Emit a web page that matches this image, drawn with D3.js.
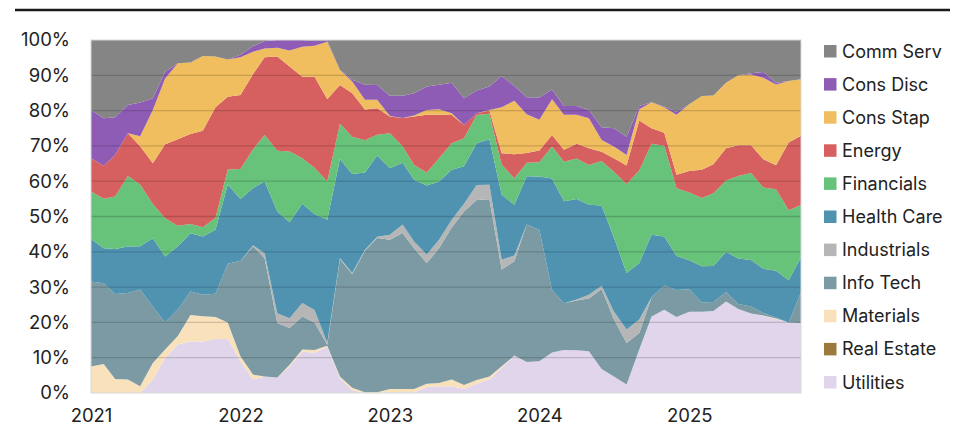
<!DOCTYPE html>
<html>
<head>
<meta charset="utf-8">
<script src="https://cdn.jsdelivr.net/npm/d3@7"></script>
<style>
  body { margin: 0; background: #fff; }
  svg text { font-family: Inter, Lato, "Noto Sans", sans-serif; fill: #222; }
</style>
</head>
<body>
<div id="chart"></div>
<script>
// Monthly sector weights (%), Jan 2021 - Oct 2025
var months = ["2021-01","2021-02","2021-03","2021-04","2021-05","2021-06","2021-07","2021-08","2021-09","2021-10","2021-11","2021-12",
  "2022-01","2022-02","2022-03","2022-04","2022-05","2022-06","2022-07","2022-08","2022-09","2022-10","2022-11","2022-12",
  "2023-01","2023-02","2023-03","2023-04","2023-05","2023-06","2023-07","2023-08","2023-09","2023-10","2023-11","2023-12",
  "2024-01","2024-02","2024-03","2024-04","2024-05","2024-06","2024-07","2024-08","2024-09","2024-10","2024-11","2024-12",
  "2025-01","2025-02","2025-03","2025-04","2025-05","2025-06","2025-07","2025-08","2025-09","2025-10"];

var sectors = ["Comm Serv", "Cons Disc", "Cons Stap", "Energy", "Financials", "Health Care",
  "Industrials", "Info Tech", "Materials", "Real Estate", "Utilities"];
var colors = ["#858585", "#8e5cb5", "#f0bd5f", "#d65f5f", "#67c27a", "#4f93b1",
  "#b6b6b6", "#7b9aa3", "#f9e1bb", "#9c7a3c", "#e1d5eb"];

var commServ = [19.8,22.2,21.9,18.4,17.7,16.5,9.0,6.6,6.4,4.5, 4.7,5.5,4.2,1.7,0.3,0,0,0,0.2,0.2,
  8.5,11.3,12.7,12.7,15.8,15.8,15.1,13.2,12.7,12.1, 16.5,14.3,13.2,10.2,13.0,16.2,16.3,14.0,18.7,18.7,
  19.8,24.7,25.0,27.4,18.7,17.6,18.9,20.3,18.2,15.8, 15.7,12.1,10.0,9.4,9.1,12.1,11.6,11.1];
var consDisc = [13.7,13.4,10.7,8.0,9.6,3.3,1.9,0,0,0, 0,0,0.7,1.6,2.1,2.2,3.0,1.9,1.4,0.3,
  0,0.5,4.2,4.2,5.7,6.3,6.3,6.6,6.9,8.7, 7.6,6.4,6.6,8.9,4.2,4.8,6.3,2.8,2.5,2.5,
  2.4,3.6,5.2,5.2,0.9,0,0.2,0.9,0,0, 0,0,0,0.4,1.6,0.5,0,0];
var consStap = [0,0,0,0,2.8,15.1,18.6,21.5,20.2,21.2, 14.3,10.6,10.7,6.3,2.5,2.5,4.5,8.5,8.8,16.3,
  4.2,3.3,2.8,2.4,0.2,0,0.3,1.4,1.6,0.5, 0,0,0.2,13.0,15.1,11.0,8.7,10.1,9.9,8.2,
  8.5,3.3,3.3,3.0,3.2,7.4,7.2,17.0,18.9,20.9, 19.5,18.6,19.8,20.0,23.1,22.9,17.5,16.0];
var energy = [9.4,9.4,11.8,12.1,10.8,11.5,21.0,24.5,25.5,27.3, 31.4,20.6,21.0,21.3,22.0,26.7,24.1,23.1,25.8,23.3,
  11.0,12.3,8.7,7.5,4.7,8.0,13.7,16.3,12.3,8.0, 3.7,0.5,0.9,3.3,6.8,2.8,3.4,3.3,3.4,4.2,
  4.7,2.6,3.8,5.2,14.2,4.4,3.7,3.8,6.1,8.0, 8.2,9.1,8.7,7.9,8.0,6.8,19.2,19.6];
var financials = [13.5,14.0,14.9,20.0,17.5,9.7,10.8,5.8,2.6,2.6, 3.3,4.2,8.5,11.0,13.2,17.2,20.0,12.9,13.1,10.8,
  10.0,10.6,9.1,5.9,9.9,4.7,4.2,3.7,6.6,7.5, 8.0,8.0,7.2,8.5,7.5,3.8,4.0,9.0,11.2,11.5,
  11.3,12.6,18.6,25.3,26.2,25.8,25.8,19.2,19.2,19.3, 20.6,20.2,23.4,24.6,23.1,23.1,19.8,14.8];
var healthCare = [12.0,9.9,12.7,13.2,12.3,19.3,18.7,17.9,16.5,16.5, 18.1,22.5,17.5,16.2,20.3,28.8,27.2,28.1,27.2,34.9,
  28.0,28.1,21.9,23.0,18.9,17.5,17.5,19.6,16.5,14.2, 10.6,11.8,12.9,18.4,14.4,13.7,15.1,31.6,28.9,28.5,
  25.5,22.7,21.0,16.0,16.0,17.7,13.9,9.6,8.2,10.2, 10.2,11.4,12.9,13.2,12.5,13.2,12.0,9.9];
var industrials = [0,0,0,0,0,0,0,0,0,0, 0,0,0,0.3,1.4,2.8,2.8,3.8,3.5,0.5,
  0.3,0.3,0.3,0.3,1.4,2.4,1.9,2.4,2.4,2.2, 2.2,4.2,4.1,2.8,1.6,0,0,0,0,0.3,
  1.0,0.9,2.2,3.8,3.8,0,0,0,0,0, 0,0,0,0,0,0,0,0];
var infoTech = [24.1,22.9,24.1,24.5,27.4,16.0,7.7,7.5,6.6,6.1, 6.6,16.6,27.1,36.3,33.5,15.4,10.4,9.4,7.8,0.3,
  33.2,32.2,40.1,43.7,42.3,44.2,39.9,34.2,38.2,43.1, 49.1,50.9,50.2,27.4,26.7,38.9,37.3,17.7,13.2,14.1,
  15.0,22.6,16.2,11.8,4.7,5.4,6.9,7.7,6.4,2.6, 2.6,2.7,1.4,2.0,0.7,0.3,0,8.7];
var materials = [7.5,8.2,4.0,3.8,1.9,4.7,2.4,2.4,7.5,7.1, 6.2,4.7,1.4,1.4,0,0,0.5,0.5,0.9,0.2,
  0.5,0.7,0.2,0.2,0.9,0.9,0.9,0.9,0.9,1.9, 1.2,1.1,0.9,0.5,0,0,0,0,0,0,
  0,0,0,0,0,0,0,0,0,0, 0,0,0,0,0.1,0.2,0,0];
var realEstate = [0,0,0,0,0,0,0,0,0,0, 0,0,0,0,0,0,0,0,0,0,
  0,0,0,0,0,0,0,0,0,0, 0,0,0,0,0,0,0,0,0,0,
  0,0,0,0,0,0,0,0,0,0, 0,0,0,0,0,0,0,0];
var utilities = [0,0,0,0,0,3.8,9.9,13.7,14.6,14.6, 15.3,15.3,9.0,3.8,4.7,4.4,7.5,11.8,11.3,13.2,
  4.2,0.8,0,0,0.2,0.2,0.2,1.7,1.9,1.9, 1.1,2.6,3.8,7.1,10.6,8.8,9.0,11.5,12.2,12.1,
  11.8,6.8,4.7,2.4,12.3,21.7,23.6,21.5,23.0,23.0, 23.2,25.9,23.8,22.5,21.9,20.9,20.0,19.8];

var yearTicks = ["2021", "2022", "2023", "2024", "2025"];

var seriesValues = [commServ, consDisc, consStap, energy, financials, healthCare,
  industrials, infoTech, materials, realEstate, utilities];

// Define SVG area
var svgWidth = 958;
var svgHeight = 428;
var plot = {left: 91, right: 801, top: 40, bottom: 393};

var svg = d3.select("#chart")
  .append("svg")
  .attr("width", svgWidth)
  .attr("height", svgHeight);

// Build table rows
var parseMonth = d3.timeParse("%Y-%m");
var rows = months.map(function(m, i) {
  var row = {date: parseMonth(m)};
  sectors.forEach(function(s, j) { row[s] = seriesValues[j][i]; });
  return row;
});

// Utilities at the bottom, Comm Serv at the top
var stackKeys = sectors.slice().reverse();
var stack = d3.stack()
  .keys(stackKeys)
  .offset(d3.stackOffsetExpand);
var layers = stack(rows);

var colorScale = d3.scaleOrdinal().domain(sectors).range(colors);

var x = d3.scaleTime()
  .domain(d3.extent(rows, d => d.date))
  .range([plot.left, plot.right]);

var y = d3.scaleLinear()
  .domain([0, 1])
  .range([plot.bottom, plot.top]);

// Top rule
svg.append("line")
  .attr("x1", 15).attr("x2", 950)
  .attr("y1", 10).attr("y2", 10)
  .attr("stroke", "#1b1b1b")
  .attr("stroke-width", 2.6);

// Areas
var area = d3.area()
  .x(d => x(d.data.date))
  .y0(d => y(d[0]))
  .y1(d => y(d[1]));

svg.append("g")
  .selectAll("path")
  .data(layers)
  .enter()
  .append("path")
  .attr("d", area)
  .attr("fill", d => colorScale(d.key));

// Gridlines over the areas
var yTicks = d3.range(0, 11).map(d => d / 10);
svg.append("g")
  .selectAll("line")
  .data(yTicks.slice(1, 10))
  .enter()
  .append("line")
  .attr("x1", plot.left).attr("x2", plot.right)
  .attr("y1", d => y(d)).attr("y2", d => y(d))
  .attr("stroke", "rgba(0,0,0,0.16)")
  .attr("stroke-width", 1.3);

// Plot frame
svg.append("rect")
  .attr("x", plot.left).attr("y", plot.top)
  .attr("width", plot.right - plot.left)
  .attr("height", plot.bottom - plot.top)
  .attr("fill", "none")
  .attr("stroke", "#d8d8d8")
  .attr("stroke-width", 1);

// Axes
var leftAxis = d3.axisLeft(y)
  .tickValues(yTicks)
  .tickFormat(d3.format(".0%"))
  .tickSize(0)
  .tickPadding(21);

svg.append("g")
  .attr("transform", `translate(${plot.left}, 0)`)
  .call(leftAxis)
  .call(g => g.select(".domain").remove())
  .selectAll("text")
  .style("font-size", "18.5px")
  .attr("fill", "#222");

var bottomAxis = d3.axisBottom(x)
  .tickValues(yearTicks.map(d => d3.timeParse("%Y")(d)))
  .tickFormat(d3.timeFormat("%Y"))
  .tickSize(0)
  .tickPadding(16);

svg.append("g")
  .attr("transform", `translate(0, ${plot.bottom})`)
  .call(bottomAxis)
  .call(g => g.select(".domain").remove())
  .selectAll("text")
  .style("font-size", "18.5px")
  .attr("fill", "#222");

// Legend
var legend = svg.append("g")
  .attr("transform", "translate(824, 45)");

var legendItems = legend.selectAll("g")
  .data(sectors)
  .enter()
  .append("g")
  .attr("transform", (d, i) => `translate(0, ${i * 33.1})`);

legendItems.append("rect")
  .attr("width", 12.5)
  .attr("height", 12.5)
  .attr("fill", d => colorScale(d));

legendItems.append("text")
  .attr("x", 18)
  .attr("y", 12.5)
  .style("font-size", "18px")
  .text(d => d);
</script>
</body>
</html>
